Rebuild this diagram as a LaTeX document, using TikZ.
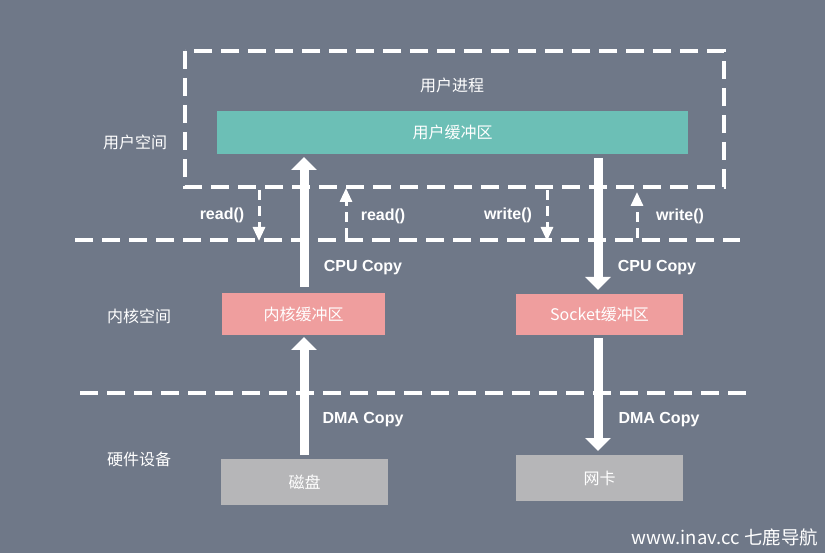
\documentclass[tikz,border=0pt]{standalone}
\usepackage{fontspec}
\setmainfont{Liberation Sans}
\newfontfamily\cjk{Noto Sans CJK SC}
\usetikzlibrary{arrows.meta}
\definecolor{bgc}{RGB}{111,120,136}
\definecolor{tealc}{RGB}{108,191,182}
\definecolor{pinkc}{RGB}{239,158,158}
\definecolor{grayc}{RGB}{182,182,184}
\tikzset{
  zone/.style={draw=white,line width=3.5pt,dash pattern=on 18pt off 9pt},
  cjklabel/.style={text=white,font=\cjk\fontsize{16}{18}\selectfont},
  latlabel/.style={text=white,font=\bfseries\fontsize{16}{18}\selectfont},
  buf/.style={minimum height=43pt,inner sep=0pt,text=white,font=\cjk\fontsize{16}{18}\selectfont},
  bigarrow/.style={draw=white,line width=9pt,-{Triangle[width=25pt,length=13pt]}},
  callarrow/.style={draw=white,line width=3pt,dash pattern=on 10pt off 6pt,-{Triangle[width=12pt,length=14pt]}}
}
\begin{document}
\begin{tikzpicture}[x=1pt,y=-1pt]
\fill[bgc] (0,0) rectangle (825,553);
\useasboundingbox (0,0) rectangle (825,553);
% zones
\draw[zone] (185,51) rectangle (724,187);
\draw[zone] (75,240) -- (740,240);
\draw[zone] (80,393) -- (748,393);
% side labels
\node[cjklabel] (us) at (135,142) {用户空间};
\node[cjklabel] (ks) at (139,316) {内核空间};
\node[cjklabel] (hw) at (139,459) {硬件设备};
% boxes
\node[cjklabel] (proc) at (452,85) {用户进程};
\node[buf,fill=tealc,minimum width=471pt] (ubuf) at (452.5,132.5) {用户缓冲区};
\node[buf,fill=pinkc,minimum width=163pt,minimum height=42pt] (kbuf) at (303.5,314) {内核缓冲区};
\node[buf,fill=pinkc,minimum width=167pt,minimum height=41pt] (sbuf) at (599.5,314.5) {Socket缓冲区};
\node[buf,fill=grayc,minimum width=167pt,minimum height=46pt] (disk) at (304.5,482) {磁盘};
\node[buf,fill=grayc,minimum width=167pt,minimum height=46pt] (nic) at (599.5,478) {网卡};
% coordinates for arrows
\coordinate (a1s) at (304,287);
\coordinate (a1e) at (304,157);
\coordinate (a2s) at (304,455);
\coordinate (a2e) at (304,337);
\coordinate (b1s) at (598,158);
\coordinate (b1e) at (598,290);
\coordinate (b2s) at (598,338);
\coordinate (b2e) at (598,451);
\draw[bigarrow] (a1s) -- (a1e);
\draw[bigarrow] (a2s) -- (a2e);
\draw[bigarrow] (b1s) -- (b1e);
\draw[bigarrow] (b2s) -- (b2e);
% call arrows
\coordinate (r1s) at (259,190);
\coordinate (r1e) at (259,241);
\coordinate (r2s) at (346,238);
\coordinate (r2e) at (346,188);
\coordinate (w1s) at (547,190);
\coordinate (w1e) at (547,241);
\coordinate (w2s) at (637,238);
\coordinate (w2e) at (637,192);
\draw[callarrow] (r1s) -- (r1e);
\draw[callarrow] (r2s) -- (r2e);
\draw[callarrow] (w1s) -- (w1e);
\draw[callarrow] (w2s) -- (w2e);
% labels
\node[latlabel] (l1) at (222,215) {read()};
\node[latlabel] (l2) at (383,216) {read()};
\node[latlabel] (l3) at (508,215) {write()};
\node[latlabel] (l4) at (680,216) {write()};
\node[latlabel] (c1) at (363,268) {CPU Copy};
\node[latlabel] (c2) at (657,268) {CPU Copy};
\node[latlabel] (d1) at (363,420) {DMA Copy};
\node[latlabel] (d2) at (659,420) {DMA Copy};
\node[text=white,font=\cjk\fontsize{18.5}{20}\selectfont] (wm) at (725,537) {www.inav.cc 七鹿导航};
\end{tikzpicture}
\end{document}
